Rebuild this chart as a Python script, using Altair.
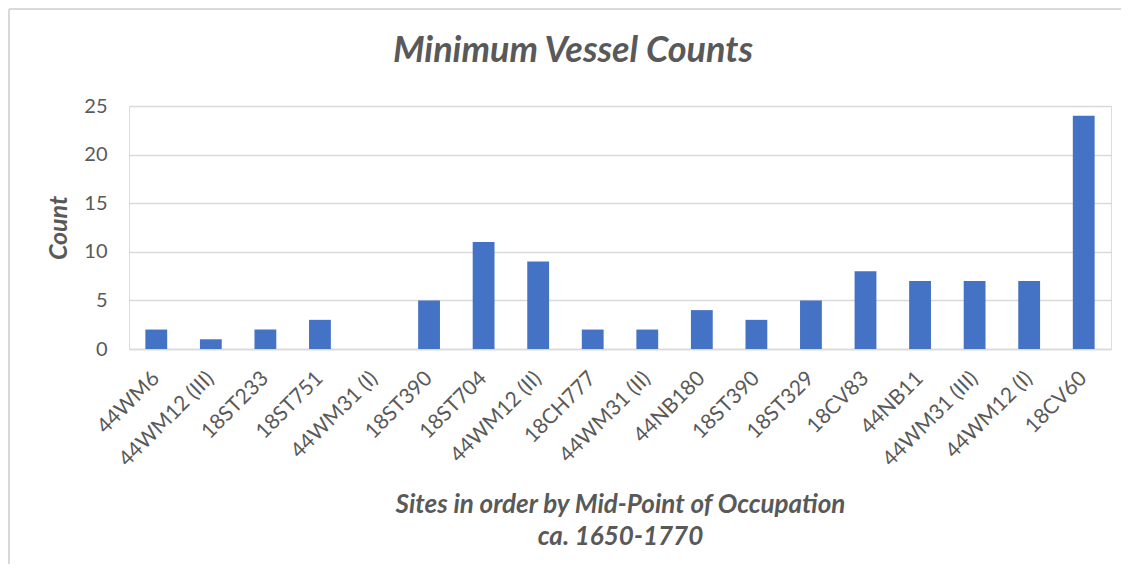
import json
import altair as alt
import pandas as pd

sites = ["44WM6", "44WM12 (III)", "18ST233", "18ST751", "44WM31 (I)", "18ST390",
         "18ST704", "44WM12 (II)", "18CH777", "44WM31 (II)", "44NB180", "18ST390",
         "18ST329", "18CV83", "44NB11", "44WM31 (III)", "44WM12 (I)", "18CV60"]
counts = [2, 1, 2, 3, 0, 5, 11, 9, 2, 2, 4, 3, 5, 8, 7, 7, 7, 24]

df = pd.DataFrame({"idx": list(range(len(sites))), "site": sites, "count": counts})

FONT = "Lato"
TXT = "#595959"
GRID = "#D9D9D9"
W, H = 982, 243

label_expr = json.dumps(sites) + "[datum.value]"

bars = alt.Chart(df).mark_bar(color="#4472C4").encode(
    x=alt.X("idx:O",
            scale=alt.Scale(paddingInner=0.6, paddingOuter=0.3),
            axis=alt.Axis(labelExpr=label_expr, labelAngle=-45, labelAlign="right",
                          labelBaseline="middle", labelPadding=26, labelFontSize=21,
                          labelColor=TXT, labelFont=FONT, ticks=False, domainColor=GRID,
                          domainWidth=1.5,
                          title=["Sites in order by Mid-Point of Occupation", "ca. 1650-1770"],
                          titleFontSize=26, titleFont=FONT, titleFontStyle="italic",
                          titleFontWeight="bold", titleColor=TXT, titlePadding=22,
                          titleLineHeight=32, labelOverlap=False)),
    y=alt.Y("count:Q",
            scale=alt.Scale(domain=[0, 25]),
            axis=alt.Axis(values=[0, 5, 10, 15, 20, 25], labelFontSize=20, labelColor=TXT,
                          labelFont=FONT, labelPadding=22, ticks=False, domain=False,
                          gridColor=GRID, gridWidth=1.5,
                          title="Count", titleFontSize=25, titleFont=FONT,
                          titleFontStyle="italic", titleFontWeight="bold", titleColor=TXT,
                          titlePadding=12)),
)

frame_left = alt.Chart(alt.Data(values=[{}])).mark_rule(color=GRID, strokeWidth=2).encode(
    x=alt.value(-120), y=alt.value(-97), y2=alt.value(H + 215))
frame_top = alt.Chart(alt.Data(values=[{}])).mark_rule(color=GRID, strokeWidth=2).encode(
    x=alt.value(-120), x2=alt.value(W + 12), y=alt.value(-97))

chart = alt.layer(frame_left, frame_top, bars).properties(
    width=W, height=H,
    autosize=alt.AutoSizeParams(type="none"),
    padding={"left": 121, "top": 98, "right": 10, "bottom": 215},
    title=alt.TitleParams("Minimum Vessel Counts", fontSize=36, font=FONT,
                          fontStyle="italic", fontWeight="bold", color=TXT,
                          anchor="middle", dx=-47, offset=-62),
).configure_view(stroke=None).configure(background="white")

chart.save("out.html", embed_options={"renderer": "svg", "actions": False})
